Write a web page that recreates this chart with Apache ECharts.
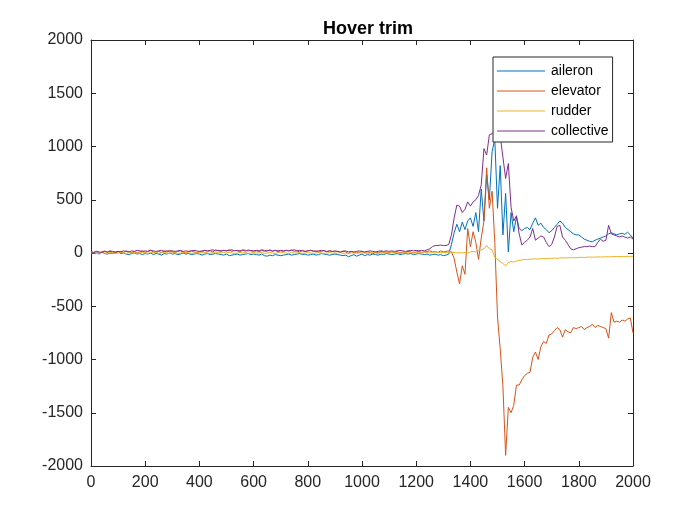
<!DOCTYPE html>
<html>
<head>
<meta charset="utf-8">
<script src="https://cdn.jsdelivr.net/npm/echarts@6/dist/echarts.min.js"></script>
<style>
	html, body { margin: 0; padding: 0; background: #fff; }
	#chart { width: 700px; height: 525px; }
</style>
</head>
<body>
<div id="chart"></div>
<script>
// sample positions, one every 10 units from 0 to 2000
var xs = [];
for (var i = 0; i <= 200; i++) xs.push(i * 10);

var names = ['aileron', 'elevator', 'rudder', 'collective'];
var colors = ['#0072BD', '#D95319', '#EDB120', '#7E2F8E'];

var aileron = [
	5, -5, 0, -10, 10, -5, -10, 0, -5, 5,
	15, -5, 0, -10, -15, -5, 0, -10, -5, -15,
	-5, -10, 0, -15, -5, -10, -20, -5, -10, 0,
	-10, -5, -15, -10, 0, -10, -5, -15, -10, -5,
	-10, -20, -10, -5, -15, -10, -5, -10, -15, -20,
	-10, -25, -20, -15, -10, -20, -15, -10, -5, -15,
	-10, -15, -20, -10, -25, -30, -20, -25, -15, -20,
	-25, -20, -15, -10, -20, -15, -10, -5, -15, -10,
	-20, -15, -10, -20, -15, -5, -10, -15, -20, -15,
	-10, -15, -20, -25, -20, -35, -25, -15, -30, -20,
	-10, -25, -15, -20, -10, -15, -20, -10, -15, -5,
	-10, -15, -10, -5, -15, -10, -5, -10, -5, -15,
	-10, -5, -10, -15, -10, -20, -15, -10, -20, -15,
	-25, -20, -10, 80, 190, 270, 200, 290, 220, 300,
	330, 250, 380, 200, 600, 300, 730, 500, 950, 1070,
	420, 820, 170, 560, 10, 380, 200, 340, 230, 210,
	230, 240, 220, 280, 330, 260, 280, 240, 220, 190,
	210, 240, 270, 300, 280, 240, 220, 200, 180, 170,
	170, 150, 130, 120, 110, 105, 120, 130, 140, 150,
	160, 180, 190, 180, 170, 180, 185, 175, 195, 170,
	140
];

var elevator = [
	10, 5, 15, 0, 10, 20, 5, 15, 10, 0,
	10, 15, 5, 20, 10, 5, 15, 0, 10, 20,
	5, 15, 25, 10, 0, 15, 5, 20, 10, 25,
	15, 5, 15, 20, 10, 0, 15, 20, 10, 5,
	15, 10, 25, 15, 20, 10, 30, 20, 15, 25,
	20, 30, 15, 25, 20, 10, 25, 15, 30, 20,
	15, 20, 10, 25, 15, 20, 30, 15, 25, 10,
	20, 15, 25, 20, 30, 15, 20, 10, 25, 15,
	20, 25, 15, 20, 10, 15, 25, 10, 20, 15,
	10, 15, 5, 20, 10, -5, 15, 0, 10, 5,
	15, 0, 10, 5, -10, 10, 0, 15, 5, 10,
	0, 10, 5, 15, 0, 10, 5, 15, 10, 0,
	10, 15, 5, 10, 15, 20, 10, 15, 5, 20,
	10, 15, 20, 10, -50, -180, -290, -120, -200, 230,
	60, 200, 100, -60, 140, 300, 800, 420, 580, 100,
	-600, -900, -1250, -1900, -1450, -1500, -1430, -1240, -1240, -1190,
	-1150, -1130, -1120, -980, -930, -1000, -880, -830, -850, -770,
	-760, -730, -700, -720, -790, -720, -740, -750, -700, -710,
	-700, -690, -720, -700, -690, -670, -700, -680, -690, -700,
	-710, -800, -560, -650, -640, -650, -630, -640, -620, -610,
	-750
];

var rudder = [
	0, 5, -5, 0, 5, 0, -5, 5, 0, -5,
	0, 5, 0, -5, 5, 0, 5, -5, 0, 5,
	0, -5, 5, 0, 5, -5, 0, 5, 0, -5,
	5, 0, -5, 0, 5, 0, 5, -5, 0, 0,
	5, 0, 5, 0, -5, 5, 0, 5, 0, 5,
	0, 5, 0, -5, 0, 5, 0, 5, -5, 0,
	5, 0, 0, 5, -5, 0, 5, 0, -5, 5,
	0, 5, 0, -5, 5, 0, 0, 5, -5, 0,
	5, 0, -5, 0, 5, 0, -5, 0, 5, 0,
	-5, 0, 5, -5, 0, -5, 0, 5, -5, 0,
	0, 5, -5, 0, 5, 0, -5, 5, 0, 5,
	0, 5, 0, 5, -5, 0, 5, 0, 5, 0,
	5, 0, 5, 10, 5, 0, 5, 10, 5, 5,
	5, 5, 10, 10, 5, 0, 5, 0, 5, 0,
	10, 15, 10, 20, 30, 40, 70, 40, 30, -40,
	-60, -80, -100, -120, -90, -80, -85, -75, -70, -65,
	-60, -62, -58, -56, -55, -57, -53, -52, -54, -50,
	-50, -48, -50, -46, -47, -45, -46, -44, -43, -45,
	-42, -40, -42, -40, -38, -40, -38, -37, -38, -36,
	-36, -35, -36, -34, -33, -35, -32, -33, -31, -32,
	-30
];

var collective = [
	10, 5, 15, 10, 5, 15, 10, 20, 15, 10,
	15, 10, 20, 15, 10, 20, 15, 25, 20, 15,
	20, 15, 25, 20, 15, 20, 25, 15, 20, 15,
	20, 15, 20, 25, 15, 20, 15, 20, 25, 20,
	15, 20, 25, 20, 25, 30, 20, 25, 20, 25,
	20, 25, 30, 20, 25, 20, 30, 25, 20, 25,
	20, 25, 20, 30, 25, 20, 25, 20, 25, 20,
	25, 20, 25, 20, 25, 30, 20, 25, 20, 15,
	20, 25, 20, 15, 20, 25, 20, 15, 20, 15,
	20, 15, 10, 15, 20, 10, 15, 10, 15, 20,
	15, 10, 15, 20, 15, 10, 15, 20, 15, 20,
	15, 20, 15, 20, 25, 20, 15, 20, 25, 20,
	25, 20, 25, 20, 30, 40, 60, 70, 70, 75,
	70, 70, 80, 170, 330, 450, 440, 380, 410, 480,
	440, 480, 500, 540, 640, 980, 920, 1110, 1120, 1150,
	1150, 1100, 900, 700, 840, 430, 300, 350, 180, 75,
	100, 120, 150, 230, 120, 140, 160, 150, 100, 60,
	80, 150, 250, 260, 150, 120, 80, 40, 30, 40,
	50, 55, 60, 60, 65, 60, 60, 100, 130, 110,
	120, 260, 180, 170, 160, 150, 160, 150, 140, 150,
	130
];

var seriesValues = [aileron, elevator, rudder, collective];

var axisColor = '#262626';
var font = 'Liberation Sans, Arial, Helvetica, sans-serif';

var chart = echarts.init(document.getElementById('chart'));

var plain = function(v){ return String(v); };

var makeX = function(pos, labels){
	return {
		type: 'value',
		position: pos,
		min: 0,
		max: 2000,
		interval: 200,
		splitLine: { show: false },
		axisLine: { show: true, onZero: false, lineStyle: { color: axisColor, width: 1 } },
		axisTick: { show: true, inside: true, length: 5, lineStyle: { color: axisColor } },
		axisLabel: { show: labels, margin: 9, color: axisColor, fontSize: 16, fontFamily: font, formatter: plain }
	};
};
var makeY = function(pos, labels){
	return {
		type: 'value',
		position: pos,
		min: -2000,
		max: 2000,
		interval: 500,
		splitLine: { show: false },
		axisLine: { show: true, onZero: false, lineStyle: { color: axisColor, width: 1 } },
		axisTick: { show: true, inside: true, length: 5, lineStyle: { color: axisColor } },
		axisLabel: { show: labels, margin: 8, color: axisColor, fontSize: 16, fontFamily: font, formatter: plain }
	};
};

var series = names.map(function(name, k){
	var vals = seriesValues[k];
	return {
		name: name,
		type: 'line',
		symbol: 'none',
		showSymbol: false,
		animation: false,
		lineStyle: { color: colors[k], width: 1 },
		itemStyle: { color: colors[k] },
		data: xs.map(function(x, i){ return [x, vals[i]]; })
	};
});

chart.setOption({
	backgroundColor: '#fff',
	animation: false,
	title: {
		text: 'Hover trim',
		left: 363,
		top: 15,
		textAlign: 'center',
		textStyle: { fontSize: 18, fontWeight: 'bold', color: '#000', fontFamily: font }
	},
	grid: { left: 91, right: 67, top: 40, bottom: 59 },
	legend: {
		data: names,
		orient: 'vertical',
		left: 493,
		top: 57,
		padding: [7, 4, 4, 4],
		itemGap: 6,
		itemWidth: 48,
		itemHeight: 1.2,
		icon: 'rect',
		backgroundColor: '#fff',
		borderColor: axisColor,
		borderWidth: 1,
		textStyle: { fontSize: 14, lineHeight: 14, color: '#000', fontFamily: font, padding: [0, 0, 0, 1] }
	},
	xAxis: [makeX('bottom', true), makeX('top', false)],
	yAxis: [makeY('left', true), makeY('right', false)],
	series: series
});
</script>
</body>
</html>
